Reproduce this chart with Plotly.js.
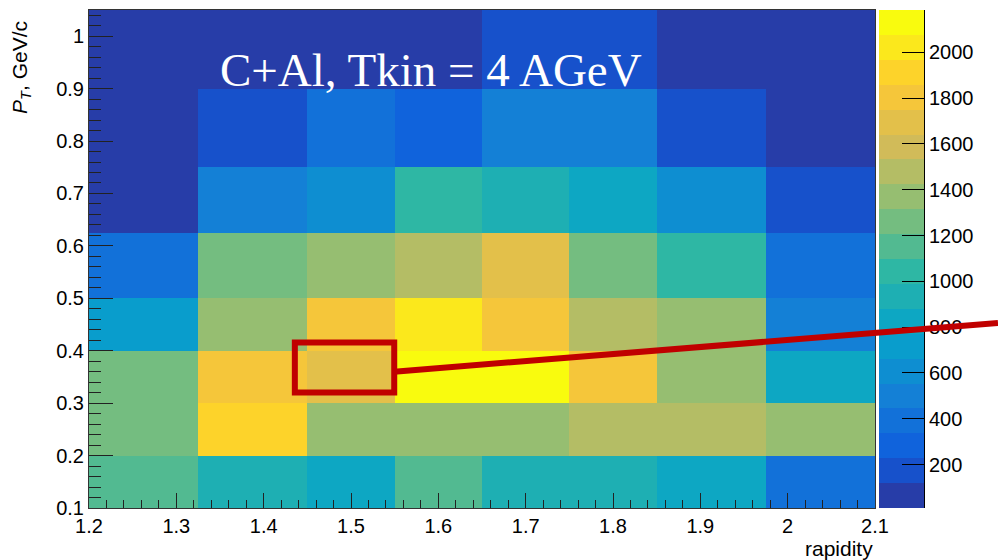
<!DOCTYPE html>
<html>
<head>
<meta charset="utf-8">
<script src="https://cdn.plot.ly/plotly-3.0.1.min.js"></script>
<style>
  html, body { margin: 0; padding: 0; background: #ffffff; }
  #chart { width: 998px; height: 560px; }
</style>
</head>
<body>
<div id="chart"></div>
<script>
// Bin edges of the 2D histogram (rapidity vs transverse momentum)
const rapidityEdges = [1.2, 1.325, 1.45, 1.55, 1.65, 1.75, 1.85, 1.975, 2.1];
const ptEdges = [0.1, 0.2, 0.3, 0.4, 0.5, 0.625, 0.75, 0.9, 1.05];

// Bin contents, one row per pT bin (from lowest pT upwards), one value per rapidity bin
const row_pt_010_020 = [1150, 935, 830, 1160, 940, 930, 820, 395];
const row_pt_020_030 = [1265, 1910, 1370, 1365, 1375, 1480, 1475, 1360];
const row_pt_030_040 = [1260, 1805, 1695, 2115, 2100, 1800, 1370, 825];
const row_pt_040_050 = [720, 1365, 1805, 2020, 1800, 1475, 1370, 500];
const row_pt_050_0625 = [390, 1255, 1360, 1480, 1690, 1260, 1045, 395];
const row_pt_0625_075 = [60, 500, 610, 1040, 935, 825, 605, 170];
const row_pt_075_090 = [55, 175, 390, 285, 495, 505, 170, 50];
const row_pt_090_105 = [45, 60, 70, 85, 165, 160, 75, 40];

// Colour-axis range and palette ticks
const zMin = 10;
const zMax = 2185;
const nContours = 20;
const paletteTicks = [200, 400, 600, 800, 1000, 1200, 1400, 1600, 1800, 2000];

// Highlighted cell and the pointer leading off to the right
const highlightBox = { x0: 1.4357, x1: 1.5495, y0: 0.3203, y1: 0.4157 };

const counts = [
  row_pt_010_020, row_pt_020_030, row_pt_030_040, row_pt_040_050,
  row_pt_050_0625, row_pt_0625_075, row_pt_075_090, row_pt_090_105
];

// ROOT "bird" palette, sampled into discrete contour bands
function birdColor(f) {
  const s = [0.0, 0.125, 0.25, 0.375, 0.5, 0.625, 0.75, 0.875, 1.0];
  const r = [0.2082, 0.0592, 0.0780, 0.0232, 0.1802, 0.5301, 0.8186, 0.9956, 0.9764];
  const g = [0.1664, 0.3599, 0.5041, 0.6419, 0.7178, 0.7492, 0.7328, 0.7862, 0.9832];
  const b = [0.5293, 0.8684, 0.8385, 0.7914, 0.6425, 0.4662, 0.3499, 0.1968, 0.0539];
  let k = 0;
  while (k < s.length - 2 && f > s[k + 1]) k++;
  const t = (f - s[k]) / (s[k + 1] - s[k]);
  const c = (arr) => Math.round(255 * (arr[k] + (arr[k + 1] - arr[k]) * t));
  return 'rgb(' + c(r) + ',' + c(g) + ',' + c(b) + ')';
}
const colorscale = [];
for (let i = 0; i < nContours; i++) {
  const idx = Math.floor((i + 0.99) * 255 / nContours);
  const col = birdColor(Math.min(idx, 254) / 254);
  colorscale.push([i / nContours, col]);
  colorscale.push([(i + 1) / nContours, col]);
}

// Palette bar: one cell per contour band, spanning the colour-axis range
const bandWidth = (zMax - zMin) / nContours;
const bandEdges = [];
const bandValues = [];
for (let i = 0; i <= nContours; i++) bandEdges.push(zMin + i * bandWidth);
for (let i = 0; i < nContours; i++) bandValues.push([zMin + (i + 0.5) * bandWidth]);

// Geometry: the paper spans the frame plus the palette bar
const plotFrac = 786 / 835;       // histogram frame share of the paper width
const barLeft = 790 / 835;        // palette bar left edge (paper units)

const heat = {
  type: 'heatmap',
  x: rapidityEdges,
  y: ptEdges,
  z: counts,
  zmin: zMin,
  zmax: zMax,
  zsmooth: false,
  colorscale: colorscale,
  showscale: false,
  hoverinfo: 'x+y+z'
};

const paletteBar = {
  type: 'heatmap',
  x: [0, 1],
  y: bandEdges,
  z: bandValues,
  zmin: zMin,
  zmax: zMax,
  zsmooth: false,
  colorscale: colorscale,
  showscale: false,
  xaxis: 'x2',
  yaxis: 'y2',
  hoverinfo: 'skip'
};

const axisFont = { family: 'Liberation Sans, Arial, sans-serif', size: 20, color: '#000000' };
const titleFont = { family: 'Liberation Sans, Arial, sans-serif', size: 21, color: '#000000' };

const layout = {
  width: 998,
  height: 560,
  margin: { l: 89, r: 74, t: 10, b: 52 },
  paper_bgcolor: '#ffffff',
  plot_bgcolor: '#ffffff',
  showlegend: false,
  xaxis: {
    domain: [0, plotFrac],
    range: [1.2, 2.1],
    tick0: 1.2,
    dtick: 0.1,
    ticks: 'inside',
    ticklen: 15,
    tickwidth: 1,
    tickcolor: '#222222',
    minor: { dtick: 0.02, ticks: 'inside', ticklen: 8, tickwidth: 1, tickcolor: '#222222' },
    showline: true,
    linecolor: '#333333',
    linewidth: 1,
    mirror: true,
    showgrid: false,
    zeroline: false,
    tickfont: axisFont
  },
  yaxis: {
    range: [0.1, 1.05],
    tick0: 0.1,
    dtick: 0.1,
    ticks: 'inside',
    ticklen: 24,
    tickwidth: 1,
    tickcolor: '#222222',
    minor: { dtick: 0.02, ticks: 'inside', ticklen: 12, tickwidth: 1, tickcolor: '#222222' },
    showline: true,
    linecolor: '#333333',
    linewidth: 1,
    mirror: true,
    showgrid: false,
    zeroline: false,
    tickfont: axisFont
  },
  xaxis2: {
    domain: [barLeft, 1],
    anchor: 'y2',
    range: [0, 1],
    visible: false,
    fixedrange: true
  },
  yaxis2: {
    anchor: 'x2',
    side: 'right',
    range: [zMin, zMax],
    tickmode: 'array',
    tickvals: paletteTicks,
    ticks: 'inside',
    ticklen: 22,
    tickwidth: 1,
    tickcolor: '#000000',
    showline: true,
    linecolor: '#000000',
    linewidth: 1,
    showgrid: false,
    zeroline: false,
    tickfont: axisFont
  },
  annotations: [
    {
      text: 'C+Al, Tkin = 4 AGeV',
      xref: 'paper', yref: 'paper',
      x: 129 / 835, y: 0.8795,
      xanchor: 'left', yanchor: 'middle',
      showarrow: false,
      font: { family: 'Liberation Serif, Times New Roman, serif', size: 47, color: '#ffffff' }
    },
    {
      text: '<i>P</i><sub><i>T</i></sub>, GeV/c',
      xref: 'paper', yref: 'paper',
      x: -68 / 835, y: 0.981,
      xanchor: 'center', yanchor: 'top',
      textangle: -90,
      showarrow: false,
      font: titleFont
    },
    {
      text: 'rapidity',
      xref: 'paper', yref: 'paper',
      x: plotFrac, y: -0.081,
      xanchor: 'right', yanchor: 'middle',
      showarrow: false,
      font: titleFont
    }
  ],
  shapes: [
    {
      type: 'rect', xref: 'x', yref: 'y',
      x0: highlightBox.x0, x1: highlightBox.x1, y0: highlightBox.y0, y1: highlightBox.y1,
      line: { color: '#c00000', width: 6 },
      fillcolor: 'rgba(0,0,0,0)'
    },
    {
      type: 'line', xref: 'paper', yref: 'paper',
      x0: 305.2 / 835, y0: 0.2737, x1: 909 / 835, y1: 0.3715,
      line: { color: '#c00000', width: 6 }
    }
  ]
};

Plotly.newPlot('chart', [heat, paletteBar], layout, { displayModeBar: false, staticPlot: true });
</script>
</body>
</html>
